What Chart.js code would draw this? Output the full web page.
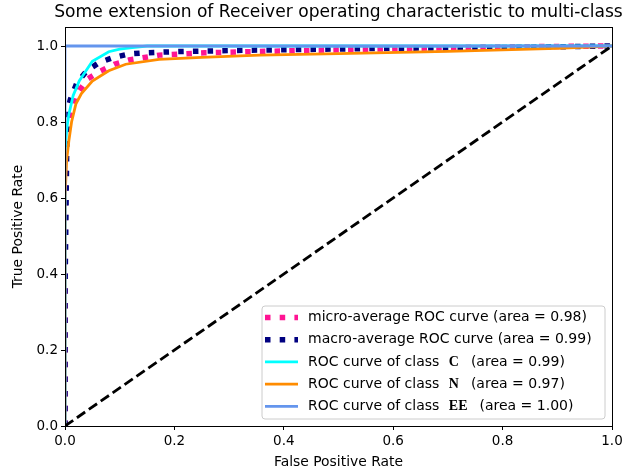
<!DOCTYPE html>
<html>
<head>
<meta charset="utf-8">
<script src="https://cdn.jsdelivr.net/npm/chart.js@4"></script>
<style>
  html, body { margin: 0; padding: 0; background: #fff; }
  #wrap { width: 626px; height: 473px; position: relative; }
</style>
</head>
<body>
<div id="wrap"><canvas id="roc"></canvas></div>
<script>
// ---- data ----
const chartTitle = 'Some extension of Receiver operating characteristic to multi-class';
const xTicks = [0, 0.2, 0.4, 0.6, 0.8, 1.0];
const yTicks = [0, 0.2, 0.4, 0.6, 0.8, 1.0];

const microFpr = [0, 0, 0.003, 0.007, 0.02, 0.041, 0.065, 0.09, 0.117, 0.172, 0.255, 0.338, 0.5, 0.75, 1];
const microTpr = [0, 0.7, 0.78, 0.803, 0.87, 0.913, 0.934, 0.952, 0.963, 0.976, 0.982, 0.985, 0.99, 0.997, 1];

const macroFpr = [0, 0, 0.004, 0.01, 0.022, 0.04, 0.062, 0.087, 0.117, 0.145, 0.2, 0.338, 0.6, 0.8, 1];
const macroTpr = [0, 0.35, 0.83, 0.86, 0.904, 0.935, 0.956, 0.969, 0.979, 0.982, 0.985, 0.989, 0.994, 0.996, 1];

const cFpr = [0, 0, 0.003, 0.007, 0.015, 0.026, 0.05, 0.08, 0.1, 0.123, 0.15, 1];
const cTpr = [0, 0.72, 0.78, 0.82, 0.87, 0.908, 0.96, 0.985, 0.992, 0.996, 1, 1];

const nFpr = [0, 0, 0.003, 0.007, 0.012, 0.02, 0.03, 0.05, 0.08, 0.111, 0.172, 0.25, 0.356, 0.5, 0.7, 0.9, 1];
const nTpr = [0, 0.6, 0.7, 0.75, 0.8, 0.848, 0.875, 0.908, 0.935, 0.952, 0.965, 0.97, 0.976, 0.98, 0.986, 0.994, 1];

const eeFpr = [0, 0, 1];
const eeTpr = [0, 1, 1];

const chanceFpr = [0, 1];
const chanceTpr = [0, 1];

const legendRows = [
  ['micro-average ROC curve (area = 0.98)', '', ''],
  ['macro-average ROC curve (area = 0.99)', '', ''],
  ['ROC curve of class ', 'C', '(area = 0.99)'],
  ['ROC curve of class ', 'N', '(area = 0.97)'],
  ['ROC curve of class ', 'EE', '(area = 1.00)']
];

function pts(xs, ys) {
  return xs.map((x, i) => ({ x: x, y: ys[i] }));
}

const DOT = [5.5, 9.2];
const datasets = [
  { label: 'micro', data: pts(microFpr, microTpr), borderColor: '#ff1493', borderWidth: 5.5, borderDash: DOT, order: 6, legend: 0 },
  { label: 'macro', data: pts(macroFpr, macroTpr), borderColor: '#000080', borderWidth: 5.5, borderDash: DOT, order: 5, legend: 1 },
  { label: 'C', data: pts(cFpr, cTpr), borderColor: '#00ffff', borderWidth: 2.8, order: 4, legend: 2 },
  { label: 'N', data: pts(nFpr, nTpr), borderColor: '#ff8c00', borderWidth: 2.8, order: 3, legend: 3 },
  { label: 'EE', data: pts(eeFpr, eeTpr), borderColor: '#6495ed', borderWidth: 2.8, order: 2, legend: 4 },
  { label: 'chance', data: pts(chanceFpr, chanceTpr), borderColor: '#000000', borderWidth: 2.8, borderDash: [10, 4.5], order: 1 }
];
datasets.forEach(d => { d.pointRadius = 0; d.fill = false; d.tension = 0; d.borderCapStyle = 'butt'; });

const FONT = 'DejaVu Sans';

// frame, title and the legend box inside the axes
const decor = {
  id: 'decor',
  afterDraw(chart) {
    const ctx = chart.ctx;
    const a = chart.chartArea;
    ctx.save();
    ctx.strokeStyle = '#000';
    ctx.lineWidth = 1;
    ctx.strokeRect(Math.round(a.left) + 0.5, Math.round(a.top) + 0.5, Math.round(a.right - a.left), Math.round(a.bottom - a.top));

    ctx.fillStyle = '#000';
    ctx.font = '17.1px "' + FONT + '"';
    ctx.textAlign = 'center';
    ctx.textBaseline = 'middle';
    ctx.fillText(chartTitle, (a.left + a.right) / 2, 12.5);

    // legend
    const bx = 262, by = 306, bw = 343, bh = 113, r = 3;
    ctx.beginPath();
    ctx.moveTo(bx + r, by);
    ctx.arcTo(bx + bw, by, bx + bw, by + bh, r);
    ctx.arcTo(bx + bw, by + bh, bx, by + bh, r);
    ctx.arcTo(bx, by + bh, bx, by, r);
    ctx.arcTo(bx, by, bx + bw, by, r);
    ctx.closePath();
    ctx.fillStyle = 'rgba(255,255,255,0.8)';
    ctx.fill();
    ctx.strokeStyle = '#cccccc';
    ctx.stroke();

    ctx.textAlign = 'left';
    chart.data.datasets.forEach(ds => {
      if (ds.legend === undefined) return;
      const row = legendRows[ds.legend];
      const y = 317.5 + ds.legend * 22.2;
      ctx.beginPath();
      ctx.strokeStyle = ds.borderColor;
      ctx.lineWidth = ds.borderWidth;
      ctx.setLineDash(ds.borderDash || []);
      ctx.moveTo(265, y);
      ctx.lineTo(298, y);
      ctx.stroke();
      ctx.setLineDash([]);

      ctx.fillStyle = '#000';
      ctx.font = '14px "' + FONT + '"';
      let x = 308;
      ctx.fillText(row[0], x, y);
      if (row[1]) {
        x += ctx.measureText(row[0]).width + 5;
        ctx.font = 'bold 14px "Liberation Serif"';
        ctx.fillText(row[1], x, y);
        x += ctx.measureText(row[1]).width + 12;
        ctx.font = '14px "' + FONT + '"';
        ctx.fillText(row[2], x, y);
      }
    });
    ctx.restore();
  }
};

function tickList(list) {
  return function (scale) { scale.ticks = list.map(v => ({ value: v })); };
}

new Chart(document.getElementById('roc'), {
  type: 'line',
  data: { datasets: datasets },
  options: {
    responsive: true,
    maintainAspectRatio: false,
    animation: false,
    layout: { padding: { left: 0, right: 14, top: 27, bottom: 0 } },
    plugins: {
      legend: { display: false },
      tooltip: { enabled: false }
    },
    scales: {
      x: {
        type: 'linear',
        min: 0,
        max: 1,
        afterBuildTicks: tickList(xTicks),
        afterFit(s) { s.height = 47; },
        grid: { drawOnChartArea: false, drawTicks: true, tickLength: 4, color: '#000' },
        border: { display: true, color: '#000', width: 1 },
        ticks: { padding: 3, color: '#000', font: { family: FONT, size: 13.5 }, maxRotation: 0, callback: v => v.toFixed(1) },
        title: { display: true, text: 'False Positive Rate', color: '#000', font: { family: FONT, size: 13.9 }, padding: { top: 0, bottom: 2 } }
      },
      y: {
        type: 'linear',
        min: 0,
        max: 1.05,
        afterBuildTicks: tickList(yTicks),
        afterFit(s) { s.width = 65; },
        grid: { drawOnChartArea: false, drawTicks: true, tickLength: 4, color: '#000' },
        border: { display: true, color: '#000', width: 1 },
        ticks: { padding: 3, color: '#000', font: { family: FONT, size: 13.5 }, callback: v => v.toFixed(1) },
        title: { display: true, text: 'True Positive Rate', color: '#000', font: { family: FONT, size: 13.9 }, padding: { top: 10, bottom: 0 } }
      }
    }
  },
  plugins: [decor]
});
</script>
</body>
</html>
